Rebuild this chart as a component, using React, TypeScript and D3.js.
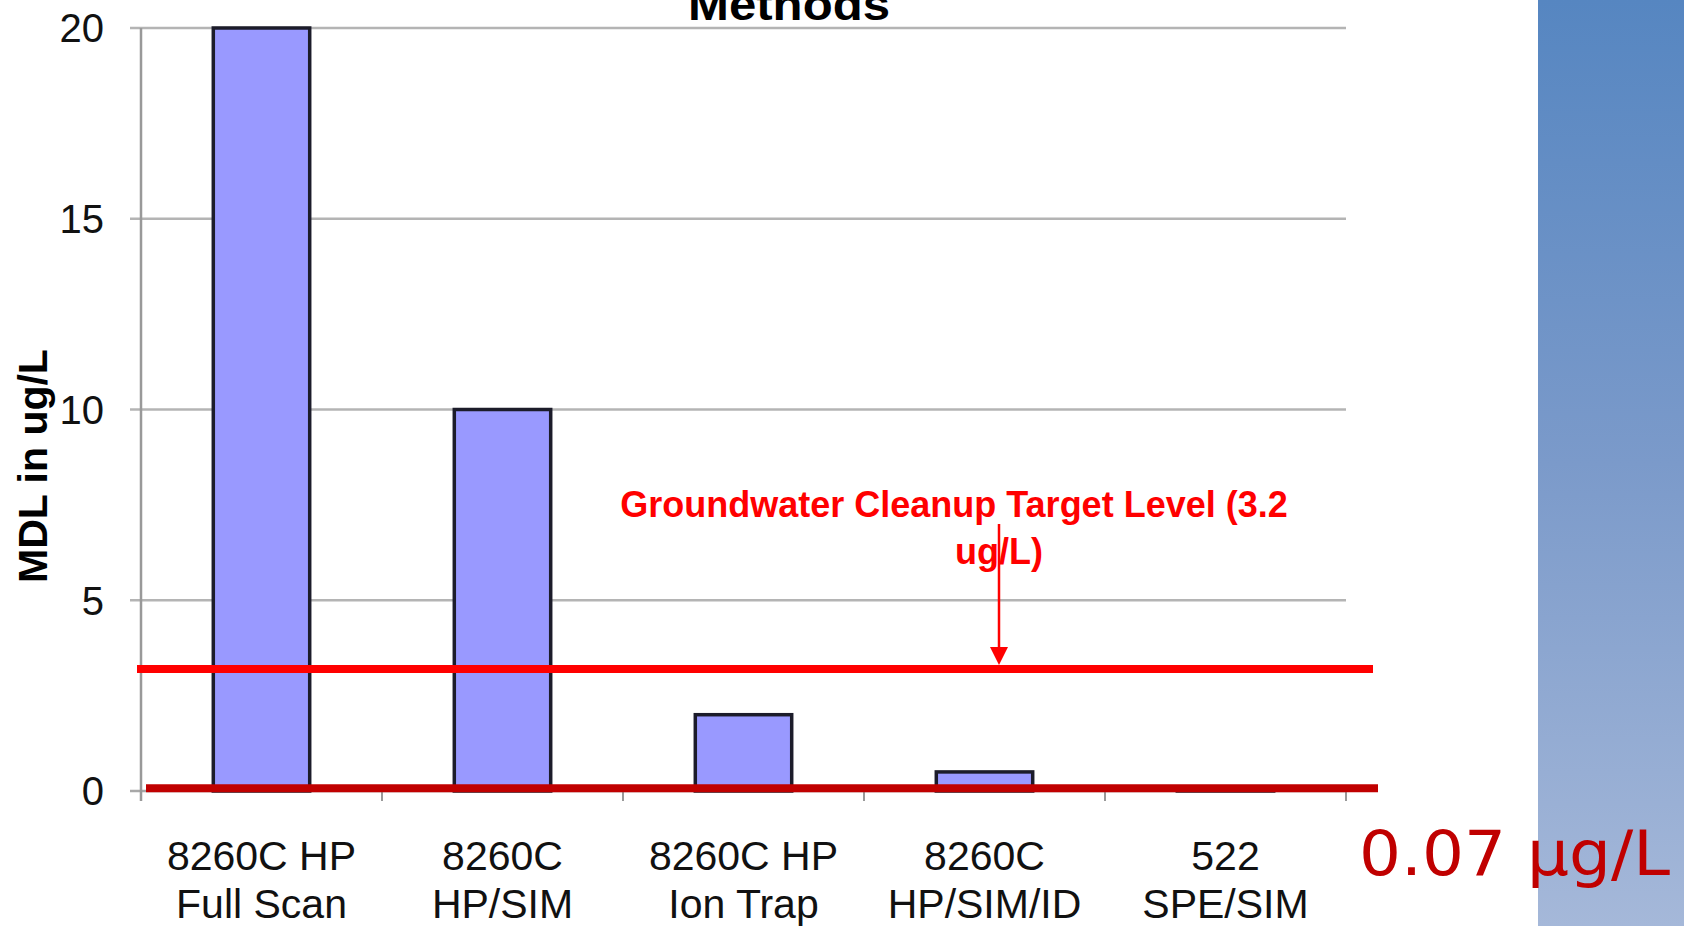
import React from "react";
import * as d3 from "d3";

// Method detection limits per analytical method (ug/L)
const categoryLines: string[][] = [
  ["8260C HP", "Full Scan"],
  ["8260C", "HP/SIM"],
  ["8260C HP", "Ion Trap"],
  ["8260C", "HP/SIM/ID"],
  ["522", "SPE/SIM"],
];
const mdlValues: number[] = [20, 10, 2, 0.5, 0.07];
const yTicks: number[] = [0, 5, 10, 15, 20];
const cleanupTarget = 3.2;
const lowestMdl = 0.07;

const W = 1684;
const H = 926;
const plot = { left: 141, right: 1346, top: 28, bottom: 791 };

export default function App() {
  const keys = categoryLines.map((c) => c.join(" "));
  const x = d3
    .scaleBand<string>()
    .domain(keys)
    .range([plot.left, plot.right])
    .paddingInner(0.6)
    .paddingOuter(0.3);
  const step = x.step();
  const y = d3.scaleLinear().domain([0, 20]).range([plot.bottom, plot.top]);

  const boundaries = d3.range(keys.length + 1).map((i) => plot.left + i * step);
  const font = "'Liberation Sans', Arial, Helvetica, sans-serif";
  const arrowX = 999;
  const yTarget = y(cleanupTarget);
  const yLow = y(lowestMdl);

  return (
    <svg
      width={W}
      height={H}
      viewBox={`0 0 ${W} ${H}`}
      style={{ position: "absolute", left: 0, top: 0, background: "#fff" }}
    >
      <defs>
        <linearGradient id="sidePanel" x1="0" y1="0" x2="0" y2="1">
          <stop offset="0%" stopColor="#5686c1" />
          <stop offset="50%" stopColor="#7b9aca" />
          <stop offset="100%" stopColor="#a5b8d9" />
        </linearGradient>
      </defs>

      {/* side panel */}
      <rect x={1538} y={0} width={W - 1538} height={H} fill="url(#sidePanel)" />

      {/* title (last line) */}
      <text
        x={789}
        y={20}
        textAnchor="middle"
        fontFamily={font}
        fontWeight="bold"
        fontSize={44}
        textLength={202}
        lengthAdjust="spacingAndGlyphs"
        fill="#000"
      >
        Methods
      </text>

      {/* gridlines and y ticks */}
      {yTicks.map((t) => (
        <g key={t}>
          <line
            x1={130}
            x2={plot.right}
            y1={y(t)}
            y2={y(t)}
            stroke={t === 0 ? "#a8a8a8" : "#b4b4b4"}
            strokeWidth={2.5}
          />
          <text
            x={104}
            y={y(t)}
            dy="0.36em"
            textAnchor="end"
            fontFamily={font}
            fontSize={40}
            fill="#111"
          >
            {t}
          </text>
        </g>
      ))}

      {/* y axis */}
      <line x1={plot.left} x2={plot.left} y1={plot.top} y2={plot.bottom + 10} stroke="#999" strokeWidth={2.5} />
      {/* x ticks */}
      {boundaries.map((bx, i) => (
        <line key={i} x1={bx} x2={bx} y1={plot.bottom} y2={plot.bottom + 10} stroke="#999" strokeWidth={2} />
      ))}

      {/* y axis title */}
      <text
        transform={`translate(47,466) rotate(-90)`}
        textAnchor="middle"
        fontFamily={font}
        fontWeight="bold"
        fontSize={41}
        fill="#000"
      >
        MDL in ug/L
      </text>

      {/* bars */}
      {mdlValues.map((v, i) => (
        <rect
          key={keys[i]}
          x={x(keys[i])}
          y={y(v)}
          width={x.bandwidth()}
          height={plot.bottom - y(v)}
          fill="#9999ff"
          stroke="#1c1c2a"
          strokeWidth={3.5}
        />
      ))}

      {/* category labels */}
      {categoryLines.map((lines, i) => {
        const cx = (x(keys[i]) as number) + x.bandwidth() / 2;
        return lines.map((ln, j) => (
          <text
            key={`${i}-${j}`}
            x={cx}
            y={870 + j * 48}
            textAnchor="middle"
            fontFamily={font}
            fontSize={41}
            fill="#111"
          >
            {ln}
          </text>
        ));
      })}

      {/* reference levels */}
      <line x1={137} x2={1373} y1={yTarget} y2={yTarget} stroke="#ff0000" strokeWidth={8} />
      <line x1={146} x2={1378} y1={yLow} y2={yLow} stroke="#c00000" strokeWidth={8} />

      {/* target level annotation */}
      <text
        x={954}
        y={517}
        textAnchor="middle"
        fontFamily={font}
        fontWeight="bold"
        fontSize={36}
        fill="#ff0000"
      >
        Groundwater Cleanup Target Level (3.2
      </text>
      <text
        x={999}
        y={564}
        textAnchor="middle"
        fontFamily={font}
        fontWeight="bold"
        fontSize={36}
        fill="#ff0000"
      >
        ug/L)
      </text>
      <line x1={arrowX} x2={arrowX} y1={524} y2={yTarget - 18} stroke="#ff0000" strokeWidth={2.5} />
      <path
        d={`M${arrowX - 9},${yTarget - 22} L${arrowX + 9},${yTarget - 22} L${arrowX},${yTarget - 4} Z`}
        fill="#ff0000"
      />

      {/* lowest MDL callout */}
      <text
        x={1359}
        y={875}
        fontFamily="'DejaVu Sans', Verdana, sans-serif"
        fontSize={62}
        textLength={311}
        lengthAdjust="spacingAndGlyphs"
        fill="#c00000"
      >
        0.07 μg/L
      </text>
    </svg>
  );
}
